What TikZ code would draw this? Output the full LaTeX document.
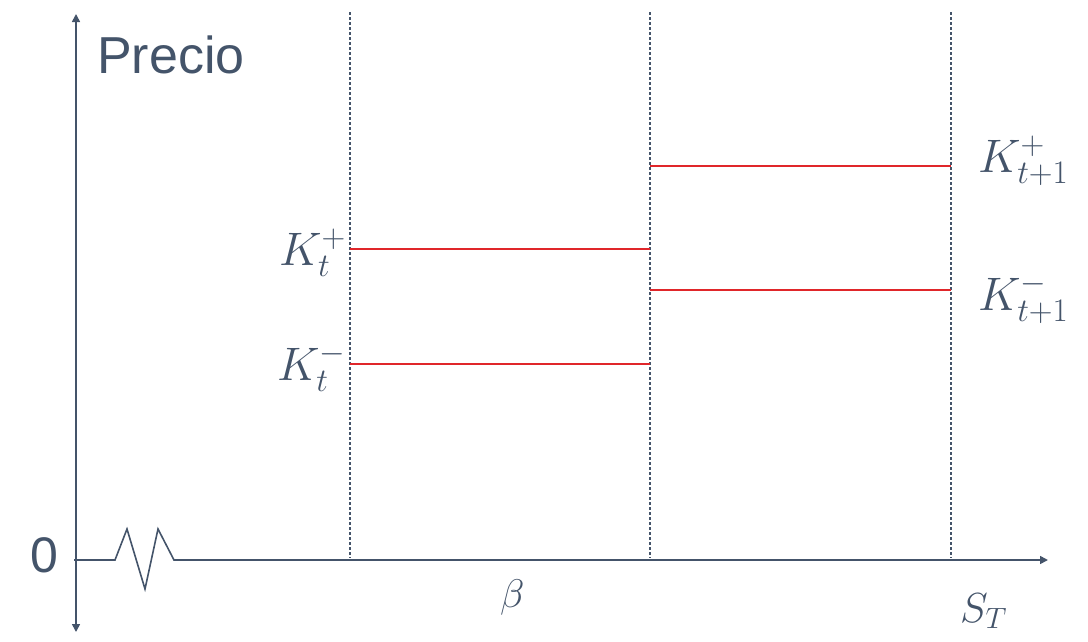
\RequirePackage{fix-cm}
\documentclass[tikz,border=0pt]{standalone}
\usepackage{fontspec}
\setmainfont{Liberation Sans}
\usetikzlibrary{arrows.meta}
\definecolor{axisc}{HTML}{44546A}
\definecolor{redc}{HTML}{E0262A}
\begin{document}
\begin{tikzpicture}[x=1pt,y=-1pt,
  axis/.style={draw=axisc,line width=1.6pt},
  guide/.style={draw=axisc,line width=1.1pt,dash pattern=on 3pt off 2pt},
  level/.style={draw=redc,line width=1.5pt},
  tip/.style={-{Triangle[length=8pt,width=8pt]}},
  lab/.style={text=axisc,inner sep=0pt},
  mlab/.style={lab,font=\fontsize{47}{56}\selectfont}]
\useasboundingbox (0,0) rectangle (1088,641);
% axes
\coordinate (ybot) at (76,632);
\coordinate (ytop) at (76,14);
\coordinate (x0) at (74,560);
\coordinate (z0) at (115,560);
\coordinate (z1) at (127,529);
\coordinate (z2) at (145,589);
\coordinate (z3) at (158,529);
\coordinate (z4) at (174,560);
\coordinate (xend) at (1048,560);
\draw[axis,{Triangle[length=8pt,width=8pt]}-{Triangle[length=8pt,width=8pt]}] (ybot) -- (ytop);
\draw[axis,tip,line join=miter] (x0) -- (z0) -- (z1) -- (z2) -- (z3) -- (z4) -- (xend);
% guides
\foreach \n/\x in {a/350,b/650,c/951}{
  \coordinate (\n top) at (\x,12);
  \coordinate (\n bot) at (\x,558);
  \draw[guide] (\n top) -- (\n bot);
}
% levels
\coordinate (p1l) at (350,249); \coordinate (p1r) at (650,249);
\coordinate (m1l) at (350,364); \coordinate (m1r) at (650,364);
\coordinate (p2l) at (650,166); \coordinate (p2r) at (951,166);
\coordinate (m2l) at (650,290); \coordinate (m2r) at (951,290);
\draw[level] (p1l) -- (p1r);
\draw[level] (m1l) -- (m1r);
\draw[level] (p2l) -- (p2r);
\draw[level] (m2l) -- (m2r);
% labels
\node[lab,anchor=base west,font=\fontsize{52}{60}\selectfont] (precio) at (97,73) {Precio};
\node[lab,anchor=base east,font=\fontsize{50}{60}\selectfont] (zero) at (59,572) {0};
\node[mlab,anchor=base east] (ktp) at (346,265) {$K_t^+$};
\node[mlab,anchor=base east] (ktm) at (346,380) {$K_t^-$};
\node[mlab,anchor=base west] (ktp1) at (978,172) {$K_{t+1}^+$};
\node[mlab,anchor=base west] (ktm1) at (978,310) {$K_{t+1}^-$};
\node[lab,anchor=base west,font=\fontsize{40}{48}\selectfont] (beta) at (500,607) {$\beta$};
\node[lab,anchor=base west,font=\fontsize{42}{48}\selectfont] (st) at (960,622) {$S_T$};
\end{tikzpicture}
\end{document}
